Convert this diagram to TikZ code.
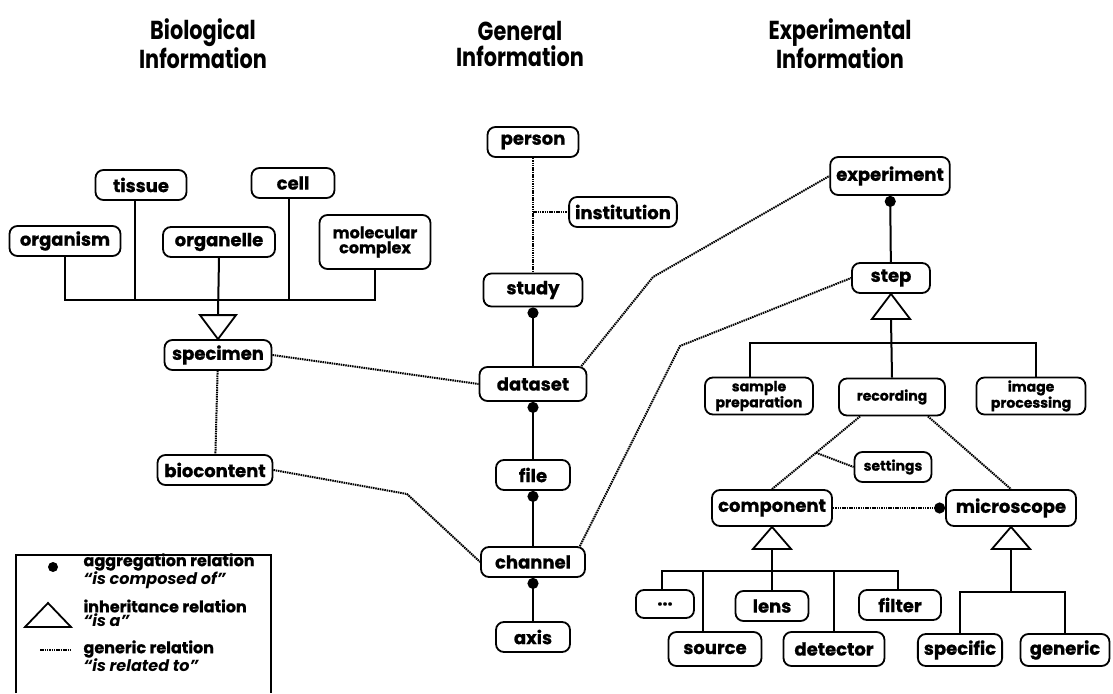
\documentclass[tikz,border=0pt]{standalone}
\usepackage{fontspec}
\newfontfamily\diafont{Poppins}[BoldFeatures={FakeBold=0.8}]
\newfontfamily\headfont{Poppins}[FakeStretch=0.8]
\usetikzlibrary{arrows.meta,calc}
\tikzset{
entity/.style = {draw, line width = 1.8pt, rounded corners = 8pt, minimum height = 30pt, inner xsep = 6pt, inner ysep = 2pt, align = center, font = \diafont\bfseries\fontsize{18}{17}\selectfont},
smallentity/.style = {entity, font = \diafont\bfseries\fontsize{14}{13}\selectfont},
aggrel/.style = {line width = 2pt, -{Circle[length = 11pt]}},
isarel/.style = {line width = 2pt},
isatri/.style = {line width = 1.8pt, fill = white, line join = miter},
genrel/.style = {line width = 2pt, dash pattern = on 1.5pt off 0.8pt},
heading/.style = {align = center, font = \headfont\bfseries\fontsize{26}{26}\selectfont},
legendtext/.style = {anchor = west, align = left, font = \diafont\bfseries\fontsize{16}{14}\selectfont}}

\begin{document}
\begin{tikzpicture}[x = 1pt, y = -1pt]
\useasboundingbox (0,0) rectangle (1113,693);
%
%''''''''''''''''''''''''''''Headings''''''''''''''''''''''''''''''''''''''''''''''''''''''
\node[heading] (bioHead) at (203,44) {Biological\\Information};
\node[heading] (genHead) at (520,44) {General\\Information};
\node[heading] (expHead) at (840,44) {Experimental\\Information};
%'''''''''''''''''''''''''''''''''''''''''''''''''''''''''''''''''''''''''''''''''''''''''''
%
%----------------------------------------------------------------------------------
% biological information
%
\node[entity, minimum width = 111] (organism) at (65,241) {organism};
\node[entity, minimum width = 91] (tissue) at (141,185) {tissue};
\node[entity, minimum width = 112] (organelle) at (219,242) {organelle};
\node[entity, minimum width = 83] (cell) at (293,183) {cell};
\node[entity, minimum width = 111, minimum height = 54, font = \diafont\bfseries\fontsize{16}{15}\selectfont] (molcomplex) at (375,242) {molecular\\complex};
\node[entity, minimum width = 107] (specimen) at (218,355) {specimen};
\node[entity, minimum width = 115] (biocontent) at (215,470) {biocontent};
%
% inheritance towards specimen
\draw[isatri] (specimen.north) -- ++(-18,-24) -- ++(36,0) -- cycle;
\coordinate (specTop) at ($(specimen.north)+(0,-24)$);
\coordinate (bioJoin) at (218,300);
\draw[isarel] (organism.south) |- (bioJoin) -| (molcomplex.south);
\draw[isarel] ([xshift=-6pt]tissue.south) -- ([xshift=-6pt]tissue.south |- bioJoin);
\draw[isarel] ([xshift=-4pt]cell.south) -- ([xshift=-4pt]cell.south |- bioJoin);
\draw[isarel] (organelle.south) -- (specTop);
%
\draw[genrel] (specimen) -- (biocontent);
%----------------------------------------------------------------------------------
%
%----------------------------------------------------------------------------------
% general information
%
\node[entity, minimum width = 91] (person) at (533,142) {person};
\node[entity, minimum width = 98] (institution) at (623,212) {institution};
\node[entity, minimum width = 99, minimum height = 33] (study) at (533,290) {study};
\node[entity, minimum width = 107, minimum height = 34] (dataset) at (533,384) {dataset};
\node[entity, minimum width = 74] (file) at (533,475) {file};
\node[entity, minimum width = 104] (channel) at (533,562) {channel};
\node[entity, minimum width = 74] (axis) at (533,637) {axis};
%
\draw[genrel] (person) -- (study);
\coordinate (instJoin) at (person.south |- institution.west);
\draw[genrel] (instJoin) -- (institution.west);
\draw[aggrel] (dataset) -- (study);
\draw[aggrel] (file) -- (dataset);
\draw[aggrel] (channel) -- (file);
\draw[aggrel] (axis) -- (channel);
%----------------------------------------------------------------------------------
%
%----------------------------------------------------------------------------------
% experimental information
%
\node[entity, minimum width = 114, minimum height = 38] (experiment) at (890,176) {experiment};
\node[entity, minimum width = 78] (step) at (891,278) {step};
\node[smallentity, minimum width = 108, minimum height = 37] (sampleprep) at (759,396) {sample\\preparation};
\node[smallentity, minimum width = 106, minimum height = 37] (recording) at (892,397) {recording};
\node[smallentity, minimum width = 109, minimum height = 37] (imageproc) at (1031,396) {image\\processing};
\node[smallentity, minimum width = 77] (settings) at (893,467) {settings};
\node[entity, minimum width = 120, minimum height = 36] (component) at (772,508) {component};
\node[entity, minimum width = 130, minimum height = 36] (microscope) at (1011,508) {microscope};
\node[entity, minimum width = 58, minimum height = 28] (dots) at (665,604) {...};
\node[entity, minimum width = 73] (lens) at (772,606) {lens};
\node[entity, minimum width = 82] (filter) at (900,605) {filter};
\node[entity, minimum width = 93, minimum height = 34] (source) at (715,649) {source};
\node[entity, minimum width = 101, minimum height = 34] (detector) at (834,649) {detector};
\node[entity, minimum width = 83, minimum height = 32] (specific) at (960,650) {specific};
\node[entity, minimum width = 89, minimum height = 32] (generic) at (1065,650) {generic};
%
\draw[aggrel] (step) -- (experiment);
%
% kinds of step
\draw[isatri] (step.south) -- ++(-19,25) -- ++(38,0) -- cycle;
\coordinate (stepBase) at ($(step.south)+(0,25)$);
\coordinate (stepJoin) at (891,343);
\draw[isarel] (stepBase) -- (recording.north);
\draw[isarel] ([xshift=-9pt]sampleprep.north) |- (stepJoin) -| ([xshift=5pt]imageproc.north);
%
% recording parts
\coordinate (recLeft) at ([xshift=22pt]recording.south west);
\coordinate (recRight) at ([xshift=-18pt]recording.south east);
\draw[genrel] (recLeft) -- (component.north);
\coordinate (setJoin) at ($(recLeft)!0.5!(component.north)$);
\draw[genrel] (setJoin) -- (settings.west);
\draw[genrel] (recRight) -- (microscope.north);
\draw[genrel, -{Circle[length = 11pt]}] (component) -- (microscope);
%
% kinds of component
\draw[isatri] (component.south) -- ++(-19,22) -- ++(38,0) -- cycle;
\coordinate (compBase) at ($(component.south)+(0,22)$);
\coordinate (compJoin) at (772,571);
\draw[isarel] (compBase) -- (lens.north);
\draw[isarel] ([xshift=-3pt]dots.north) |- (compJoin) -| ([xshift=-2pt]filter.north);
\draw[isarel] ([xshift=-12pt]source.north) -- ([xshift=-12pt]source.north |- compJoin);
\draw[isarel] (detector.north) -- (detector.north |- compJoin);
%
% kinds of microscope
\draw[isatri] (microscope.south) -- ++(-19,22) -- ++(38,0) -- cycle;
\coordinate (micBase) at ($(microscope.south)+(0,22)$);
\coordinate (micJoin) at (1011,592);
\draw[isarel] (micBase) -- (micJoin);
\draw[isarel] (specific.north) |- (micJoin) -| (generic.north);
%----------------------------------------------------------------------------------
%
%----------------------------------------------------------------------------------
% links between the columns
\draw[genrel] (specimen.east) -- (dataset.west);
\coordinate (bioBend) at (407,494);
\draw[genrel] (biocontent.east) -- (bioBend) -- (channel.west);
\coordinate (expBend) at (653,277);
\draw[genrel] ([xshift=-6pt]dataset.north east) -- (expBend) -- (experiment.west);
\coordinate (stepBend) at (680,346);
\draw[genrel] ([xshift=-6pt]channel.north east) -- (stepBend) -- (step.west);
%----------------------------------------------------------------------------------
%
%----------------------------------------------------------------------------------
% legend
\draw[line width = 1.8pt] (16,693) -- (16,555) -- (271,555) -- (271,693);
\fill (53,567) circle (5);
\node[legendtext] (aggText) at (80,571) {aggregation relation\\\textit{“is composed of”}};
\draw[isatri] (25,627) -- (71,627) -- (48,603) -- cycle;
\node[legendtext] (isaText) at (80,613) {inheritance relation\\\textit{“is a”}};
\draw[genrel] (40,650) -- (70,650);
\node[legendtext] (genText) at (80,656) {generic relation\\\textit{“is related to”}};
%----------------------------------------------------------------------------------
%
\end{tikzpicture}
\end{document}
